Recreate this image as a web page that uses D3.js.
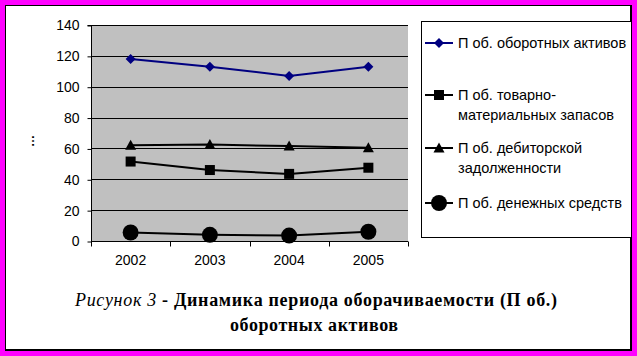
<!DOCTYPE html>
<html><head><meta charset="utf-8">
<script src="https://cdn.jsdelivr.net/npm/d3@7"></script>
<style>html,body{margin:0;padding:0;background:#fff;}svg{display:block;}</style>
</head><body>
<svg id="c" width="637" height="356"></svg>
<script>
const years = ["2002", "2003", "2004", "2005"];
const seriesNames = ["П об. оборотных активов", "П об. товарно-материальных запасов", "П об. дебиторской задолженности", "П об. денежных средств"];
const legendLines = [["П об. оборотных активов"], ["П об. товарно-", "материальных запасов"], ["П об. дебиторской", "задолженности"], ["П об. денежных средств"]];
const vAssets = [118, 113, 107, 113];
const vInventory = [51.5, 46, 43.5, 47.5];
const vReceivables = [62, 62.5, 61.5, 60.5];
const vCash = [5.5, 4, 3.5, 6];
const yTicks = [0, 20, 40, 60, 80, 100, 120, 140];
const captionItalic = "Рисунок 3";
const captionBold1 = " - Динамика периода оборачиваемости (П об.)";
const captionBold2 = "оборотных активов";

const series = [
  {values: vAssets, color: "#000080", marker: "diamond"},
  {values: vInventory, color: "#000000", marker: "square"},
  {values: vReceivables, color: "#000000", marker: "triangle"},
  {values: vCash, color: "#000000", marker: "circle"}
];

const svg = d3.select("#c");
const W = 637, H = 356;
// frame
svg.append("rect").attr("x",0).attr("y",0).attr("width",W).attr("height",H).attr("fill","#ff00ff");
svg.append("rect").attr("x",5.5).attr("y",5.5).attr("width",625).attr("height",344).attr("fill","#fff").attr("stroke","#000").attr("stroke-width",1);
svg.append("line").attr("x1",631).attr("x2",631).attr("y1",5).attr("y2",351).attr("stroke","#000").attr("stroke-width",2);
svg.append("line").attr("x1",5).attr("x2",632).attr("y1",350).attr("y2",350).attr("stroke","#000").attr("stroke-width",2);

const L = 91, R = 408, T = 25, B = 241;
const x = d3.scaleBand().domain(years).range([L, R]).padding(0);
const cx = d => x(d) + x.bandwidth()/2;
const y = d3.scaleLinear().domain([0, 140]).range([B, T]);

svg.append("rect").attr("x",L).attr("y",T).attr("width",R-L).attr("height",B-T).attr("fill","#c0c0c0");
// gridlines
svg.append("g").selectAll("line").data(yTicks.filter(t=>t>0)).join("line")
  .attr("x1",L).attr("x2",R).attr("y1",d=>Math.round(y(d))+0.5).attr("y2",d=>Math.round(y(d))+0.5)
  .attr("stroke","#000").attr("stroke-width",1);

// y axis
const yAxis = d3.axisLeft(y).tickValues(yTicks).tickSize(4).tickPadding(8).tickFormat(d3.format("d"));
const gy = svg.append("g").attr("transform",`translate(${L+0.5},0.5)`).call(yAxis);
gy.select(".domain").attr("d",`M-4,${T}H0V${B}`).attr("stroke","#000");
gy.selectAll("text").attr("font-family","'Liberation Sans', Arial, sans-serif").attr("font-size","14px").attr("fill","#000");

// x axis
const xAxis = d3.axisBottom(x).tickSize(0).tickPadding(14);
const gx = svg.append("g").attr("transform",`translate(0,${B+0.5})`).call(xAxis);
gx.select(".domain").attr("d",`M${L},0H${R}`).attr("stroke","#000");
gx.selectAll("text").attr("font-family","'Liberation Sans', Arial, sans-serif").attr("font-size","14px").attr("fill","#000");
const bounds = years.map(d=>x(d)).concat([R]);
gx.selectAll("line.bt").data(bounds).join("line").attr("class","bt")
  .attr("x1",d=>Math.round(d)+0.5).attr("x2",d=>Math.round(d)+0.5).attr("y1",0).attr("y2",5).attr("stroke","#000");

// y-axis title (garbled)
svg.append("text").attr("transform","translate(34,141) rotate(-90)").attr("text-anchor","middle")
  .attr("font-family","'Liberation Sans', Arial, sans-serif").attr("font-size","12px").attr("font-weight","bold").attr("fill","#000").text("…");

function drawMarker(g, type, px, py, color) {
  if (type === "diamond") {
    g.append("path").attr("d",`M${px},${py-5}L${px+5},${py}L${px},${py+5}L${px-5},${py}Z`).attr("fill",color);
  } else if (type === "square") {
    g.append("rect").attr("x",px-5).attr("y",py-5).attr("width",10).attr("height",10).attr("fill",color);
  } else if (type === "triangle") {
    g.append("path").attr("d",`M${px},${py-5.5}L${px+5.5},${py+4.5}L${px-5.5},${py+4.5}Z`).attr("fill",color);
  } else {
    g.append("circle").attr("cx",px).attr("cy",py).attr("r",8).attr("fill",color);
  }
}

const line = d3.line().x((d,i)=>cx(years[i])).y(d=>y(d));
series.forEach(s => {
  const g = svg.append("g");
  g.append("path").attr("d", line(s.values)).attr("fill","none").attr("stroke",s.color).attr("stroke-width",2);
  s.values.forEach((v,i)=>drawMarker(g, s.marker, cx(years[i]), y(v), s.color));
});

// legend
svg.append("rect").attr("x",421.5).attr("y",21.5).attr("width",210).attr("height",216).attr("fill","#fff").attr("stroke","#000");
const legY = [43, 95, 148, 203];
series.forEach((s,i) => {
  const g = svg.append("g");
  g.append("line").attr("x1",425).attr("x2",453).attr("y1",legY[i]).attr("y2",legY[i]).attr("stroke",s.color).attr("stroke-width",2);
  drawMarker(g, s.marker, 439, legY[i], s.color);
  const t = g.append("text").attr("x",458).attr("y",legY[i]+5)
    .attr("font-family","'Liberation Sans', Arial, sans-serif").attr("font-size","14.5px").attr("fill","#000");
  legendLines[i].forEach((ln,j)=>{
    t.append("tspan").attr("x",458).attr("dy", j===0?0:19.5).text(ln);
  });
});

// caption
const cap = svg.append("text").attr("x",75).attr("y",306)
  .attr("font-family","'Liberation Serif', 'Times New Roman', serif").attr("font-size","18px").attr("fill","#000")
  .attr("textLength",482).attr("lengthAdjust","spacing");
cap.append("tspan").attr("font-style","italic").text(captionItalic);
cap.append("tspan").attr("font-weight","bold").text(captionBold1);
svg.append("text").attr("x",230).attr("y",331)
  .attr("font-family","'Liberation Serif', 'Times New Roman', serif").attr("font-size","18px").attr("font-weight","bold").attr("fill","#000")
  .attr("textLength",168).attr("lengthAdjust","spacing")
  .text(captionBold2);
</script>
</body></html>
